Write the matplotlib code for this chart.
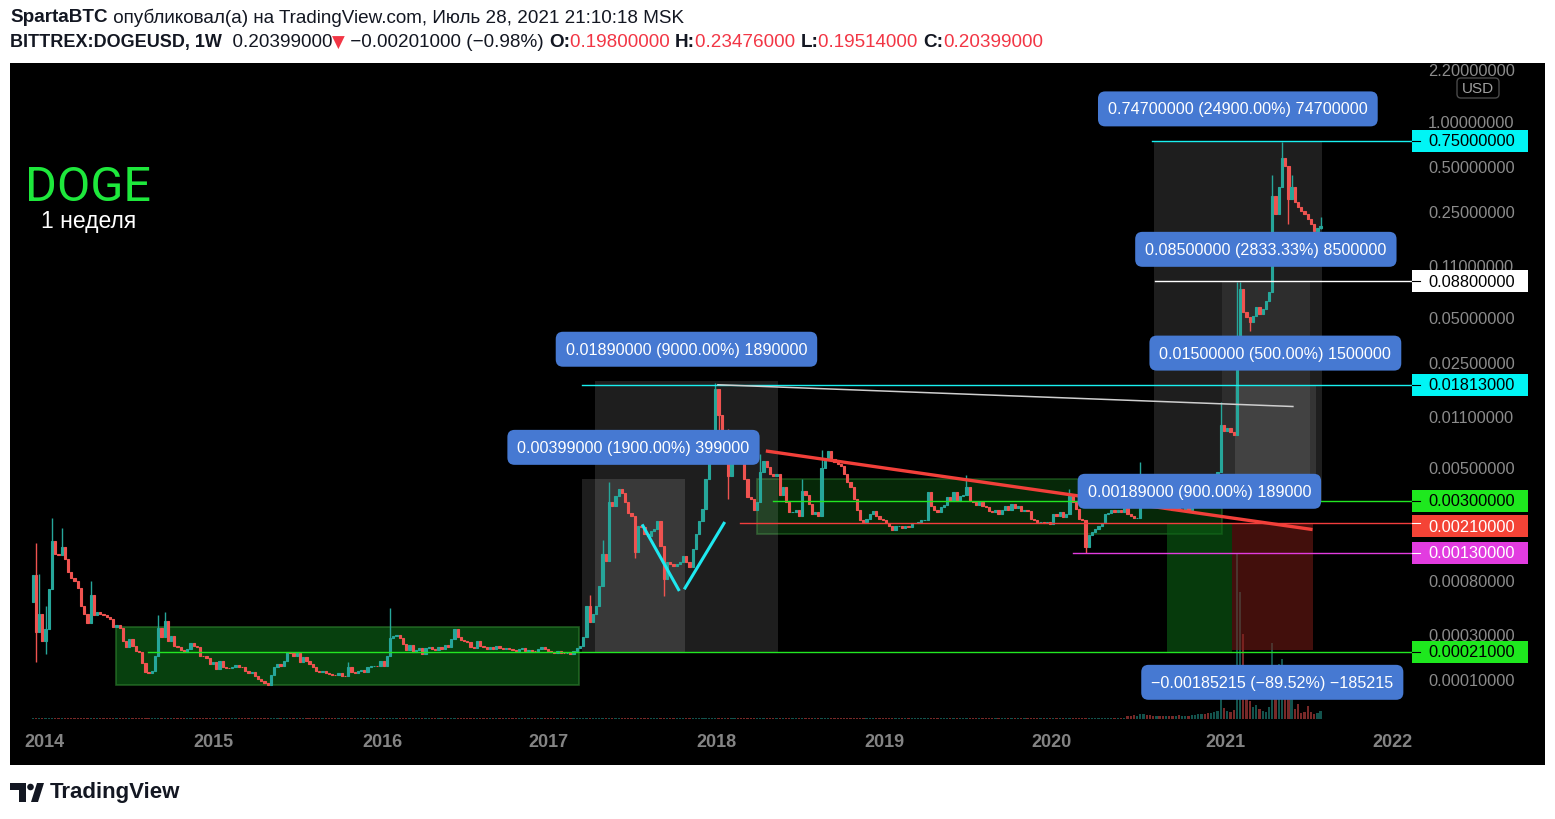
import numpy as np
import matplotlib
matplotlib.use("Agg")
import matplotlib.pyplot as plt
import matplotlib.transforms as mtransforms
from matplotlib.patches import Rectangle, Polygon, Circle, FancyBboxPatch

W, H = 1555, 820
OFFSET = 1e-4          # TradingView log scale works on log10(price + 0.0001)

# ---- weekly DOGE candles (close of each week) ----
first_open = 0.00056
closes = [
    0.00090, 0.00032, 0.00045, 0.000266, 0.00034, 0.00071, 0.00158, 0.00128, 0.00126, 0.00143,
    0.00118, 0.00095, 0.00086, 0.00081, 0.00072, 0.00052, 0.00045, 0.00038, 0.00064, 0.00044,
    0.00047, 0.00045, 0.00044, 0.00043, 0.00041, 0.00035, 0.00037, 0.000346, 0.000266, 0.000234,
    0.000277, 0.000239, 0.000214, 0.00021, 0.000161, 0.000128, 0.000126, 0.000131, 0.000191, 0.000346,
    0.000289, 0.000396, 0.000266, 0.000295, 0.000239, 0.000234, 0.000219, 0.00021, 0.000224, 0.000255,
    0.000239, 0.000234, 0.000191, 0.00019, 0.000182, 0.000157, 0.000165, 0.000139, 0.00017, 0.000146,
    0.000142, 0.000141, 0.000146, 0.000153, 0.000146, 0.000145, 0.000131, 0.000124, 0.000127, 0.000114,
    0.000105, 0.000099, 0.000093, 0.000088, 0.000118, 0.000146, 0.000157, 0.00015, 0.00017, 0.00021,
    0.000205, 0.00019, 0.000205, 0.000165, 0.000186, 0.00017, 0.000157, 0.000146, 0.000131, 0.000127,
    0.000131, 0.000124, 0.00012, 0.000119, 0.000118, 0.000124, 0.000114, 0.000113, 0.000146, 0.000127,
    0.000124, 0.000131, 0.000135, 0.000127, 0.000146, 0.00015, 0.000151, 0.00015, 0.00017, 0.00015,
    0.00019, 0.000283, 0.000295, 0.0003, 0.000283, 0.000249, 0.000219, 0.000244, 0.00021, 0.000219,
    0.000229, 0.0002, 0.000229, 0.000234, 0.000224, 0.000219, 0.000234, 0.000224, 0.000244, 0.000234,
    0.000277, 0.000339, 0.000289, 0.000271, 0.000266, 0.00026, 0.000234, 0.000229, 0.000266, 0.000239,
    0.000234, 0.000224, 0.000234, 0.000224, 0.000239, 0.000229, 0.000224, 0.000229, 0.000224, 0.000219,
    0.000214, 0.000224, 0.000229, 0.000214, 0.000219, 0.000214, 0.000212, 0.000224, 0.000234, 0.000224,
    0.000214, 0.00021, 0.000205, 0.000214, 0.000205, 0.000203, 0.000204, 0.000202, 0.000214, 0.000229,
    0.000239, 0.000289, 0.00052, 0.00039, 0.00045, 0.00052, 0.00075, 0.00128, 0.00114, 0.00295,
    0.00277, 0.00324, 0.00361, 0.00339, 0.00295, 0.00248, 0.00236, 0.00132, 0.00201, 0.00198,
    0.00177, 0.0017, 0.00186, 0.00192, 0.00218, 0.00146, 0.00084, 0.00112, 0.00108, 0.00105,
    0.00108, 0.00112, 0.00124, 0.00112, 0.00103, 0.00139, 0.00177, 0.00218, 0.00264, 0.0042,
    0.0060, 0.0088, 0.0170, 0.0114, 0.0062, 0.0079, 0.0044, 0.0060, 0.0075, 0.0055,
    0.0054, 0.0042, 0.0032, 0.0031, 0.0026, 0.00295, 0.0047, 0.0056, 0.0051, 0.0046,
    0.0044, 0.0046, 0.0033, 0.0037, 0.00295, 0.0025, 0.0025, 0.0026, 0.00236, 0.0035,
    0.0033, 0.00285, 0.00244, 0.0025, 0.00236, 0.0050, 0.0059, 0.0065, 0.0058, 0.0055,
    0.0053, 0.0052, 0.0046, 0.0040, 0.0037, 0.0031, 0.0026, 0.0022, 0.00215, 0.00225,
    0.00244, 0.00256, 0.00236, 0.00225, 0.0022, 0.0021, 0.0020, 0.0019, 0.0020, 0.0020,
    0.00196, 0.0020, 0.00198, 0.0021, 0.00212, 0.00215, 0.0022, 0.00222, 0.00345, 0.00277,
    0.0026, 0.0025, 0.0027, 0.0028, 0.0032, 0.0030, 0.00345, 0.0030, 0.00324, 0.0033,
    0.0037, 0.0030, 0.00295, 0.0028, 0.00295, 0.00277, 0.0027, 0.00256, 0.0025, 0.0026,
    0.00244, 0.0026, 0.00277, 0.0026, 0.00285, 0.00268, 0.00277, 0.00256, 0.0026, 0.00256,
    0.00225, 0.0022, 0.00215, 0.00215, 0.0021, 0.00215, 0.00207, 0.00244, 0.00236, 0.00251,
    0.00233, 0.00244, 0.00324, 0.00295, 0.00264, 0.00225, 0.00221, 0.00143, 0.00174, 0.00184,
    0.00192, 0.0020, 0.0021, 0.00244, 0.00248, 0.0026, 0.00251, 0.0026, 0.00251, 0.00268,
    0.00244, 0.00236, 0.00229, 0.00229, 0.00299, 0.0033, 0.0032, 0.0031, 0.0030, 0.0031,
    0.0029, 0.0028, 0.0029, 0.0027, 0.0026, 0.0027, 0.0026, 0.0026, 0.0027, 0.0026,
    0.0027, 0.0028, 0.0030, 0.0032, 0.0031, 0.0030, 0.0032, 0.0045, 0.0047, 0.0097,
    0.0089, 0.0093, 0.0087, 0.0084, 0.0376, 0.0783, 0.055, 0.051, 0.0475, 0.0518,
    0.0597, 0.0534, 0.0578, 0.0654, 0.0748, 0.3235, 0.246, 0.371, 0.5775, 0.511,
    0.309, 0.371, 0.295, 0.273, 0.257, 0.246, 0.228, 0.211, 0.190, 0.198,
    0.20399,
]
# week index -> (high, low) for the wicks that stick out visibly
wicks = {
    1: (0.00153, 0.000165), 2: (0.00092, None), 4: (0.00052, 0.0002), 6: (0.0023, None),
    9: (0.00195, None), 18: (0.00081, None), 39: (0.00044, None), 41: (0.00047, None),
    98: (0.000165, None), 111: (0.0005, None), 173: (0.00064, None), 177: (0.0016, None),
    179: (0.004, None), 187: (None, 0.0012), 196: (None, 0.00063), 212: (0.0185, None),
    213: (None, 0.0085), 216: (0.0092, 0.0031), 226: (0.0062, None), 239: (0.0042, None),
    245: (0.0066, None), 290: (0.0045, None), 322: (0.0036, None), 327: (None, 0.0013),
    344: (0.0055, None), 369: (0.0139, None), 374: (0.087, None), 375: (0.087, None),
    378: (None, 0.0413), 385: (0.4456, None), 388: (0.737, None), 390: (None, 0.211),
    391: (0.445, None), 400: (0.23476, 0.19514),
}
# volume (relative units), tiny until mid 2020
vol_early = 1.5
vol_recent = [  # weeks 340..400
    3, 3, 4, 3, 5, 5, 4, 4, 3, 3,
    3, 3, 3, 3, 3, 3, 4, 3, 3, 3,
    4, 4, 5, 5, 5, 6, 6, 7, 8, 20,
    11, 8, 7, 9, 165, 127, 85, 25, 18, 12,
    14, 10, 8, 7, 12, 76, 52, 55, 60, 48,
    32, 20, 10, 15, 6, 7, 13, 7, 5, 6,
    8,
]

years = ['2014', '2015', '2016', '2017', '2018', '2019', '2020', '2021', '2022']
year_pos = [3.8, 56.0, 108.5, 160.3, 212.5, 264.4, 316.5, 370.3, 422.4]
price_ticks = [2.2, 1.0, 0.5, 0.25, 0.11, 0.05, 0.025, 0.011, 0.005, 0.0008, 0.0003, 0.0001]

# horizontal levels: price, first week, line colour, tag colour, tag text colour, tag nudge (px)
levels = [
    (0.75, 347.6, '#19f0f0', '#00f5f5', 'black', 0),
    (0.088, 348.5, '#ffffff', '#ffffff', 'black', 0),
    (0.01813, 170.6, '#19f0f0', '#00f5f5', 'black', 0),
    (0.003, 229.9, '#22e622', '#1ee81e', 'black', 0),
    (0.0021, 219.7, '#f23d3d', '#f44336', 'white', -3),
    (0.0013, 323.1, '#e23ce0', '#e23ce0', 'white', 0),
    (0.00021, 35.8, '#22e622', '#1ee81e', 'black', 0),
]
# price-range boxes: first week, last week, low, high, colour, alpha, label, label side
ranges = [
    (174.6, 231.5, 0.00021, 0.0191, 'white', 0.12, '0.01890000 (9000.00%) 1890000', 'top'),
    (170.6, 202.6, 0.00021, 0.0042, 'white', 0.12, '0.00399000 (1900.00%) 399000', 'top'),
    (348.2, 400.4, 0.003, 0.75, 'white', 0.12, '0.74700000 (24900.00%) 74700000', 'top'),
    (369.3, 396.7, 0.003, 0.088, 'white', 0.07, '0.08500000 (2833.33%) 8500000', 'top'),
    (373.4, 398.5, 0.003, 0.018, 'white', 0.10, '0.01500000 (500.00%) 1500000', 'top'),
    (352.3, 372.4, 0.00021, 0.0021, '#0b6a16', 0.55, '0.00189000 (900.00%) 189000', 'top'),
    (372.4, 397.6, 0.000217, 0.00207, '#7a1c16', 0.55, '\u22120.00185215 (\u221289.52%) \u2212185215', 'bottom'),
]
zones = [  # green consolidation rectangles
    (25.9, 169.7, 0.000087, 0.000353, '#0a5c14', 0.7),
    (224.9, 369.3, 0.00177, 0.004225, '#0b4a10', 0.55),
]

TEAL, RED = '#26a69a', '#ef5350'
BLUE = '#4679d2'
GREY = '#8b8b8b'
ident = mtransforms.IdentityTransform()

fig = plt.figure(figsize=(W / 100, H / 100), dpi=100)
fig.patch.set_facecolor('white')
fig.add_artist(Rectangle((10, H - 766), 1535, 702, transform=ident,
                         facecolor='black', edgecolor='none', zorder=-1))


def frac(x0, y0, x1, y1):
    return [x0 / W, 1 - y1 / H, (x1 - x0) / W, (y1 - y0) / H]


vax = fig.add_axes(frac(10, 64, 1413, 722))
ax = fig.add_axes(frac(10, 64, 1413, 722))
for a in (vax, ax):
    a.axis('off')
    a.set_xlim(-7.05, 428.7)


def fwd(p):
    return np.log10(np.clip(np.asarray(p, float) + OFFSET, 1e-12, None))


def inv(f):
    return 10 ** np.asarray(f, float) - OFFSET


ax.set_yscale('function', functions=(fwd, inv))
ax.set_ylim(inv(-3.967), inv(0.391))
vax.set_ylim(-2, 656)

c = np.array(closes)
o = np.r_[first_open, c[:-1]]
x = np.arange(len(c))
col = np.where(c >= o, TEAL, RED)

# volume
vol = np.r_[np.full(len(c) - len(vol_recent), vol_early), vol_recent]
vax.bar(x, vol, width=0.7, color=col, alpha=0.5, linewidth=0)

# candles
ax.bar(x, np.abs(c - o), bottom=np.minimum(o, c), width=0.7, color=col,
       edgecolor=col, linewidth=0.8, zorder=4)
for i, (hi, lo) in wicks.items():
    top = hi if hi is not None else max(o[i], c[i])
    bot = lo if lo is not None else min(o[i], c[i])
    ax.vlines(i, bot, top, color=col[i], linewidth=1, zorder=3)

# zones and ranges
for x0, x1, lo, hi, fc, al in zones:
    ax.add_patch(Rectangle((x0, lo), x1 - x0, hi - lo, facecolor=fc, alpha=al,
                           edgecolor='#2b7a2b', linewidth=1.2, zorder=1))
for x0, x1, lo, hi, fc, al, lab, side in ranges:
    ax.add_patch(Rectangle((x0, lo), x1 - x0, hi - lo, facecolor=fc, alpha=al,
                           edgecolor='none', zorder=1))

# lines
for p, xs, lc, tc, tt, nudge in levels:
    ax.plot([xs, 428.7], [p, p], color=lc, linewidth=1.0, zorder=5, clip_on=False)
ax.plot([227.7, 397.5], [0.00653, 0.0019], color='#f2403a', linewidth=2.4,
        solid_capstyle='butt', zorder=6)
ax.plot([212.8, 391.4], [0.0181, 0.01296], color='#cfcfcf', linewidth=1.1, zorder=5)
ax.plot([189.5, 200.6], [0.00202, 0.0007], color='#1ee8f0', linewidth=2.2, zorder=6)
ax.plot([202.6, 214.7], [0.00072, 0.0021], color='#1ee8f0', linewidth=2.2, zorder=6)


def ydisp(p):
    return ax.transData.transform((0, p))[1]


def xdisp(v):
    return ax.transData.transform((v, 1.0))[0]


# range labels
for x0, x1, lo, hi, fc, al, lab, side in ranges:
    xc = (xdisp(x0) + xdisp(x1)) / 2
    yc = ydisp(hi) + 32 if side == 'top' else ydisp(lo) - 32
    fig.text(xc, yc, lab, transform=ident, ha='center', va='center', color='white',
             fontsize=11.6, family='Liberation Sans', zorder=8,
             bbox=dict(boxstyle='round,pad=0.62,rounding_size=0.45', fc=BLUE, ec='none'))

# price scale
for p in price_ticks:
    fig.text(1428, ydisp(p), f'{p:.8f}', transform=ident, ha='left', va='center',
             color=GREY, fontsize=11.8, family='Liberation Sans', zorder=2)
for p, xs, lc, tc, tt, nudge in levels:
    yc = ydisp(p) + nudge
    fig.add_artist(Rectangle((1412, yc - 11), 116, 22, transform=ident,
                             facecolor=tc, edgecolor='none', zorder=5))
    fig.add_artist(plt.Line2D([1412, 1420], [ydisp(p), ydisp(p)], transform=ident,
                              color='black' if tt == 'black' else 'white', lw=0.8, zorder=6))
    fig.text(1428, yc, f'{p:.8f}', transform=ident, ha='left', va='center', color=tt,
             fontsize=11.8, family='Liberation Sans', zorder=6)
fig.add_artist(FancyBboxPatch((1457, H - 99), 42, 20, transform=ident,
                              boxstyle='round,pad=0,rounding_size=4', facecolor='black',
                              edgecolor='#4a4a4a', linewidth=1, zorder=5))
fig.text(1478, H - 89, 'USD', transform=ident, ha='center', va='center', color='#a0a0a0',
         fontsize=11, family='Liberation Sans', zorder=6)

# time scale
for yl, xp in zip(years, year_pos):
    fig.text(xdisp(xp), H - 743, yl, transform=ident, ha='center', va='center',
             color='#848484', fontsize=13, fontweight='bold', family='Liberation Sans')

# titles on chart
fig.text(25, H - 201, 'DOGE', transform=ident, ha='left', va='baseline', color='#1ee83c',
         fontsize=35, family=['Roboto', 'Liberation Sans'])
fig.text(89, H - 228, '1 неделя', transform=ident, ha='center', va='baseline', color='white',
         fontsize=16.5, family='Liberation Sans')

# header
renderer = fig.canvas.get_renderer()


def run_text(xs, yc, pieces):
    for s, kw in pieces:
        t = fig.text(xs, yc, s, transform=ident, ha='left', va='center', **kw)
        xs = t.get_window_extent(renderer).x1


base = dict(fontsize=13.6, family=['Liberation Sans', 'DejaVu Sans'], color='#131722')
bold = dict(base, fontweight='bold')
redt = dict(base, color='#f23645')
run_text(10, H - 18, [('SpartaBTC', bold),
                      (' опубликовал(а) на TradingView.com, Июль 28, 2021 21:10:18 MSK', base)])
run_text(10, H - 43, [('BITTREX:DOGEUSD, 1W', dict(bold, fontsize=13)), ('  0.20399000', base),
                      ('\u25bc', dict(redt, family=['DejaVu Sans'], fontsize=12)),
                      (' \u22120.00201000 (\u22120.98%) ', base), ('O:', bold), ('0.19800000 ', redt),
                      ('H:', bold), ('0.23476000 ', redt), ('L:', bold), ('0.19514000 ', redt),
                      ('C:', bold), ('0.20399000', redt)])

# footer logo
dark = '#131722'
fig.add_artist(Polygon([(10, H - 784), (26, H - 784), (26, H - 803), (19, H - 803),
                        (19, H - 791), (10, H - 791)], closed=True, transform=ident,
                       facecolor=dark, edgecolor='none'))
fig.add_artist(Circle((30.5, H - 788), 3.3, transform=ident, facecolor=dark, edgecolor='none'))
fig.add_artist(Polygon([(31, H - 803), (38, H - 803), (44, H - 784), (37, H - 784)], closed=True,
                       transform=ident, facecolor=dark, edgecolor='none'))
fig.text(50, H - 793, 'TradingView', transform=ident, ha='left', va='center', color=dark,
         fontsize=16, fontweight='bold', family='Liberation Sans')

fig.savefig('out.png', dpi=100, facecolor='white')
